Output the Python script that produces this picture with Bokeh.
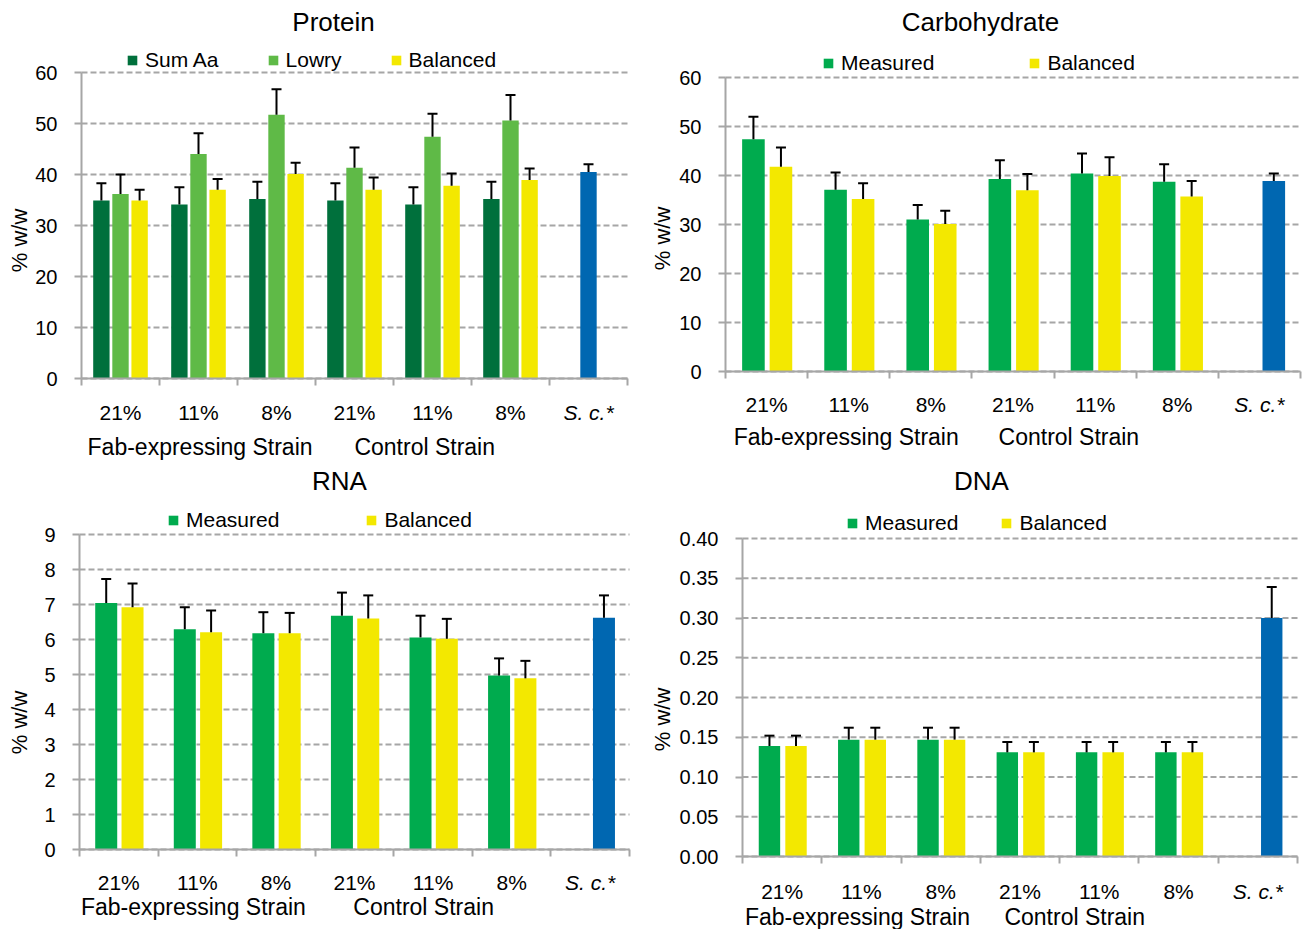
import math
from bokeh.plotting import figure
from bokeh.models import (Range1d, FixedTicker, LinearAxis, Legend, LegendItem, Whisker,
                          TeeHead, ColumnDataSource, NumeralTickFormatter, Label)
from bokeh.layouts import column, row
from bokeh.embed import file_html
from bokeh.resources import INLINE

# ---------------- data ----------------
categories = ["21%", "11%", "8%", "21%", "11%", "8%", "S. c.*"]
groups = ["Fab-expressing Strain", "Control Strain"]
y_label = "% w/w"

protein_sum_aa = [34.9, 34.1, 35.2, 34.9, 34.1, 35.2]
protein_sum_aa_err = [3.4, 3.4, 3.4, 3.4, 3.4, 3.4]
protein_lowry = [36.2, 44.0, 51.7, 41.3, 47.4, 50.6]
protein_lowry_err = [3.8, 4.1, 5.0, 4.0, 4.5, 5.0]
protein_balanced = [34.9, 37.0, 40.1, 37.0, 37.8, 38.9]
protein_balanced_err = [2.1, 2.1, 2.2, 2.4, 2.4, 2.3]
protein_sc = 40.5
protein_sc_err = 1.5
protein_yticks = [0, 10, 20, 30, 40, 50, 60]

carb_measured = [47.4, 37.1, 31.0, 39.3, 40.4, 38.7]
carb_measured_err = [4.6, 3.5, 3.0, 3.8, 4.1, 3.6]
carb_balanced = [41.8, 35.2, 30.1, 37.0, 39.9, 35.7]
carb_balanced_err = [3.9, 3.2, 2.7, 3.3, 3.8, 3.2]
carb_sc = 38.9
carb_sc_err = 1.5
carb_yticks = [0, 10, 20, 30, 40, 50, 60]

rna_measured = [7.04, 6.29, 6.18, 6.68, 6.06, 4.97]
rna_measured_err = [0.69, 0.63, 0.60, 0.66, 0.62, 0.49]
rna_balanced = [6.92, 6.21, 6.18, 6.60, 6.02, 4.89]
rna_balanced_err = [0.68, 0.62, 0.58, 0.66, 0.57, 0.50]
rna_sc = 6.62
rna_sc_err = 0.64
rna_yticks = [0, 1, 2, 3, 4, 5, 6, 7, 8, 9]

dna_measured = [0.139, 0.147, 0.147, 0.131, 0.131, 0.131]
dna_measured_err = [0.013, 0.015, 0.015, 0.013, 0.013, 0.013]
dna_balanced = [0.139, 0.147, 0.147, 0.131, 0.131, 0.131]
dna_balanced_err = [0.013, 0.015, 0.015, 0.013, 0.013, 0.013]
dna_sc = 0.300
dna_sc_err = 0.039
dna_yticks = [0.0, 0.05, 0.10, 0.15, 0.20, 0.25, 0.30, 0.35, 0.40]

# ---------------- style ----------------
FONT = "Liberation Sans"
GRAY = "#A6A6A6"
C_SUMAA = "#00703C"
C_LOWRY = "#5FBA47"
C_BAL = "#F3E800"
C_MEAS = "#00AB4E"
C_SC = "#0067B1"


def whisker(p, xs, vals, errs):
    src = ColumnDataSource(dict(x=xs, lower=vals, upper=[v + e for v, e in zip(vals, errs)]))
    p.add_layout(Whisker(source=src, base="x", lower="lower", upper="upper",
                         line_color="black", line_width=2, level="overlay",
                         upper_head=TeeHead(size=10, line_width=2, line_color="black"),
                         lower_head=None))


def style_cat_axis(ax, standoff, size, ticks, minor, alpha):
    ax.ticker = FixedTicker(ticks=ticks, minor_ticks=minor)
    ax.fixed_location = 0
    ax.bounds = (0, len(categories))
    ax.axis_line_color = GRAY
    ax.axis_line_width = 2
    ax.axis_line_alpha = alpha
    ax.major_tick_line_color = None
    ax.major_tick_out = 0
    ax.major_tick_in = 0
    ax.minor_tick_line_color = GRAY
    ax.minor_tick_line_width = 2
    ax.minor_tick_line_alpha = alpha
    ax.minor_tick_out = 7
    ax.minor_tick_in = 0
    ax.major_label_text_font = FONT
    ax.major_label_text_font_size = size
    ax.major_label_text_color = "black"
    ax.major_label_standoff = standoff


def panel(title, series, sc_val, sc_err, sc_off, bar_w, yticks, yfmt, L):
    W, H = L["w"], L["h"]
    left, rb = L["axx"], L["rb"]
    ytop_px, y0_px = L["ytop"], L["y0"]
    ncat = len(categories)
    cw = (W - left - rb) / ncat
    ymax = yticks[-1]
    ppu = (y0_px - ytop_px) / ymax
    xr = Range1d(-left / cw, ncat + rb / cw)
    yr = Range1d(-(H - y0_px) / ppu, ymax + ytop_px / ppu)

    p = figure(width=W, height=H, output_backend="svg", toolbar_location=None,
               x_range=xr, y_range=yr, title=None,
               min_border_left=0, min_border_right=0, min_border_top=0, min_border_bottom=0,
               outline_line_color=None, background_fill_color="white",
               border_fill_color="white")
    p.xgrid.visible = False
    p.ygrid.visible = False

    # horizontal dashed grid lines at the y ticks, across the plot area
    p.segment(x0=[0] * len(yticks), x1=[ncat] * len(yticks), y0=yticks, y1=yticks,
              line_color=GRAY, line_width=2, line_dash="6 3")

    items = []
    n = ncat - 1
    for name, vals, errs, color, off in series:
        xs = [i + 0.5 + off for i in range(n)]
        r = p.vbar(x=xs, top=vals, width=bar_w, fill_color=color, line_color=None)
        items.append(LegendItem(label=name, renderers=[r]))
        whisker(p, xs, vals, errs)
    xsc = [n + 0.5 + sc_off]
    p.vbar(x=xsc, top=[sc_val], width=bar_w, fill_color=C_SC, line_color=None)
    whisker(p, xsc, [sc_val], [sc_err])

    # title and y-axis title
    p.add_layout(Label(x=L["tx"], y=H - L["ty"], x_units="screen", y_units="screen",
                       text=title, text_font=FONT, text_font_size="26px",
                       text_color="black", text_align="center", text_baseline="middle"))
    p.add_layout(Label(x=L["yl"][0], y=H - L["yl"][1], x_units="screen", y_units="screen",
                       text=y_label, angle=math.pi / 2, text_font=FONT,
                       text_font_size="22px", text_color="black",
                       text_align="center", text_baseline="middle"))

    # legend
    leg = Legend(items=items, location=(L["legx"], H - L["legy"] - 12),
                 orientation="horizontal",
                 spacing=L["legsp"], padding=0, margin=0, glyph_width=12, glyph_height=12,
                 label_standoff=7, label_text_font=FONT, label_text_font_size="21px",
                 label_text_color="black", border_line_color=None, background_fill_alpha=0)
    p.add_layout(leg)

    # y axis
    ya = p.yaxis[0]
    ya.ticker = FixedTicker(ticks=yticks)
    ya.fixed_location = 0
    ya.bounds = (0, ymax)
    if yfmt:
        ya.formatter = NumeralTickFormatter(format=yfmt)
    ya.axis_line_color = GRAY
    ya.axis_line_width = 2
    ya.major_tick_line_color = GRAY
    ya.major_tick_line_width = 2
    ya.major_tick_out = 7
    ya.major_tick_in = 0
    ya.minor_tick_line_color = None
    ya.major_label_text_font = FONT
    ya.major_label_text_font_size = "20px"
    ya.major_label_text_color = "black"
    ya.major_label_standoff = 17

    boundaries = list(range(ncat + 1))
    centers = [i + 0.5 for i in range(n)]

    # x axis: condition labels and category boundary ticks
    xa = p.xaxis[0]
    style_cat_axis(xa, L["catsd"], "21px", centers, boundaries, 1.0)
    xa.major_label_overrides = {c: lab for c, lab in zip(centers, categories[:n])}

    # italic species label on the same row
    sa = LinearAxis()
    style_cat_axis(sa, L["catsd"], "21px", [n + 0.5], boundaries, 0.0)
    sa.major_label_overrides = {n + 0.5: categories[-1]}
    sa.major_label_text_font_style = "italic"
    p.add_layout(sa, "below")

    # strain group labels
    ga = LinearAxis()
    style_cat_axis(ga, L["grpsd"], "23px", L["gpos"], boundaries, 0.0)
    ga.major_label_overrides = {g: lab for g, lab in zip(L["gpos"], groups)}
    p.add_layout(ga, "below")
    return p


p1 = panel("Protein",
           [("Sum Aa", protein_sum_aa, protein_sum_aa_err, C_SUMAA, -0.245),
            ("Lowry", protein_lowry, protein_lowry_err, C_LOWRY, 0.0),
            ("Balanced", protein_balanced, protein_balanced_err, C_BAL, 0.245)],
           protein_sc, protein_sc_err, 0.0, 0.21, protein_yticks, None,
           dict(w=650, h=460, axx=81, rb=23, ytop=72, y0=378, tx=333, ty=21,
                yl=(19, 240), legx=126, legy=60, legsp=48, catsd=15, grpsd=48,
                gpos=[1.52, 4.4]))

p2 = panel("Carbohydrate",
           [("Measured", carb_measured, carb_measured_err, C_MEAS, -0.16),
            ("Balanced", carb_balanced, carb_balanced_err, C_BAL, 0.175)],
           carb_sc, carb_sc_err, 0.175, 0.275, carb_yticks, None,
           dict(w=654, h=460, axx=75, rb=4, ytop=77, y0=371, tx=330, ty=21,
                yl=(12, 238), legx=172, legy=63, legsp=94, catsd=14, grpsd=45,
                gpos=[1.47, 4.18]))

p3 = panel("RNA",
           [("Measured", rna_measured, rna_measured_err, C_MEAS, -0.16),
            ("Balanced", rna_balanced, rna_balanced_err, C_BAL, 0.175)],
           rna_sc, rna_sc_err, 0.175, 0.28, rna_yticks, None,
           dict(w=650, h=469, axx=79, rb=21, ytop=74, y0=389, tx=339, ty=20,
                yl=(19, 262), legx=167, legy=60, legsp=86, catsd=14, grpsd=37,
                gpos=[1.45, 4.38]))

p4 = panel("DNA",
           [("Measured", dna_measured, dna_measured_err, C_MEAS, -0.16),
            ("Balanced", dna_balanced, dna_balanced_err, C_BAL, 0.175)],
           dna_sc, dna_sc_err, 0.175, 0.27, dna_yticks, "0.00",
           dict(w=654, h=469, axx=92, rb=7, ytop=78, y0=396, tx=331, ty=20,
                yl=(12, 259), legx=196, legy=63, legsp=42, catsd=16, grpsd=40,
                gpos=[1.45, 4.19]))

layout = column(row(p1, p2), row(p3, p4))

open("out.html", "w").write(file_html(layout, INLINE))
